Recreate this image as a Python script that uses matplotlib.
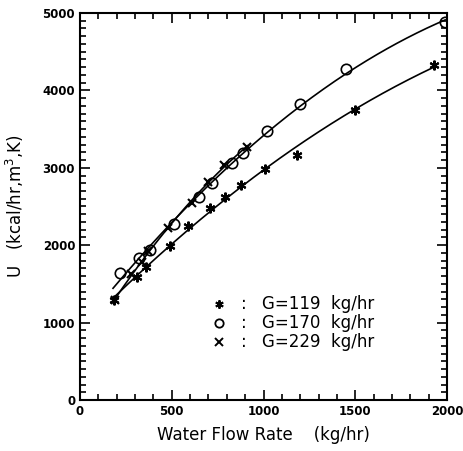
import matplotlib.pyplot as plt
import numpy as np
from matplotlib.ticker import MultipleLocator

# G = 119 kg/hr (asterisks)
flow_119 = np.array([185, 310, 360, 490, 590, 710, 790, 880, 1010, 1180, 1500, 1930])
u_119 = np.array([1290, 1590, 1720, 1990, 2250, 2480, 2620, 2780, 2990, 3160, 3750, 4330])

# G = 170 kg/hr (circles)
flow_170 = np.array([220, 320, 380, 510, 650, 720, 830, 890, 1020, 1200, 1450, 1990])
u_170 = np.array([1640, 1830, 1940, 2270, 2620, 2800, 3060, 3190, 3470, 3820, 4270, 4880])

# G = 229 kg/hr (crosses)
flow_229 = np.array([190, 280, 340, 370, 480, 610, 700, 785, 910])
u_229 = np.array([1290, 1630, 1780, 1930, 2220, 2550, 2820, 3030, 3270])

labels = ["G=119  kg/hr", "G=170  kg/hr", "G=229  kg/hr"]

fig = plt.figure(figsize=(4.64, 4.51), dpi=100)
ax = fig.add_axes([0.1724, 0.1131, 0.7910, 0.8581])

# fitted curves (quadratic fit of each series)
for fx, fu, x0, x1 in [(flow_119, u_119, 185, 1930),
                       (flow_170, u_170, 180, 1990),
                       (flow_229, u_229, 185, 915)]:
    c = np.polyfit(fx, fu, 2)
    xs = np.linspace(x0, x1, 200)
    ax.plot(xs, np.polyval(c, xs), color='black', lw=1.2)

ast = (6, 2, 0)
ax.plot(flow_119, u_119, ls='none', marker=ast, ms=7, mec='black', mew=1.5)
ax.plot(flow_170, u_170, ls='none', marker='o', ms=7.5, mfc='none', mec='black', mew=1.2)
ax.plot(flow_229, u_229, ls='none', marker='x', ms=6, mec='black', mew=1.5)

# legend as text
ax.plot([760], [1240], ls='none', marker=ast, ms=6, mec='black', mew=1.4)
ax.plot([760], [995], ls='none', marker='o', ms=6, mfc='none', mec='black', mew=1.3)
ax.plot([760], [750], ls='none', marker='x', ms=5.5, mec='black', mew=1.4)
for i, lab in enumerate(labels):
    yv = 1240 - i * 245
    ax.text(895, yv, ":", fontsize=12, va='center', ha='center')
    ax.text(990, yv, lab, fontsize=12, va='center', ha='left')

ax.set_xlim(0, 2000)
ax.set_ylim(0, 5000)
ax.xaxis.set_major_locator(MultipleLocator(500))
ax.xaxis.set_minor_locator(MultipleLocator(100))
ax.yaxis.set_major_locator(MultipleLocator(1000))
ax.yaxis.set_minor_locator(MultipleLocator(100))
ax.tick_params(which='both', direction='in', top=True, right=True, width=1.2)
ax.tick_params(which='major', length=7, labelsize=8.5)
ax.tick_params(which='minor', length=4)
for lbl in ax.get_xticklabels() + ax.get_yticklabels():
    lbl.set_fontweight('bold')
for s in ax.spines.values():
    s.set_linewidth(1.5)

ax.set_xlabel("Water Flow Rate    (kg/hr)", fontsize=12, labelpad=6)
ax.set_ylabel("U   (kcal/hr,m$^3$,K)", fontsize=12, labelpad=12)

fig.savefig("out.png", dpi=100)
